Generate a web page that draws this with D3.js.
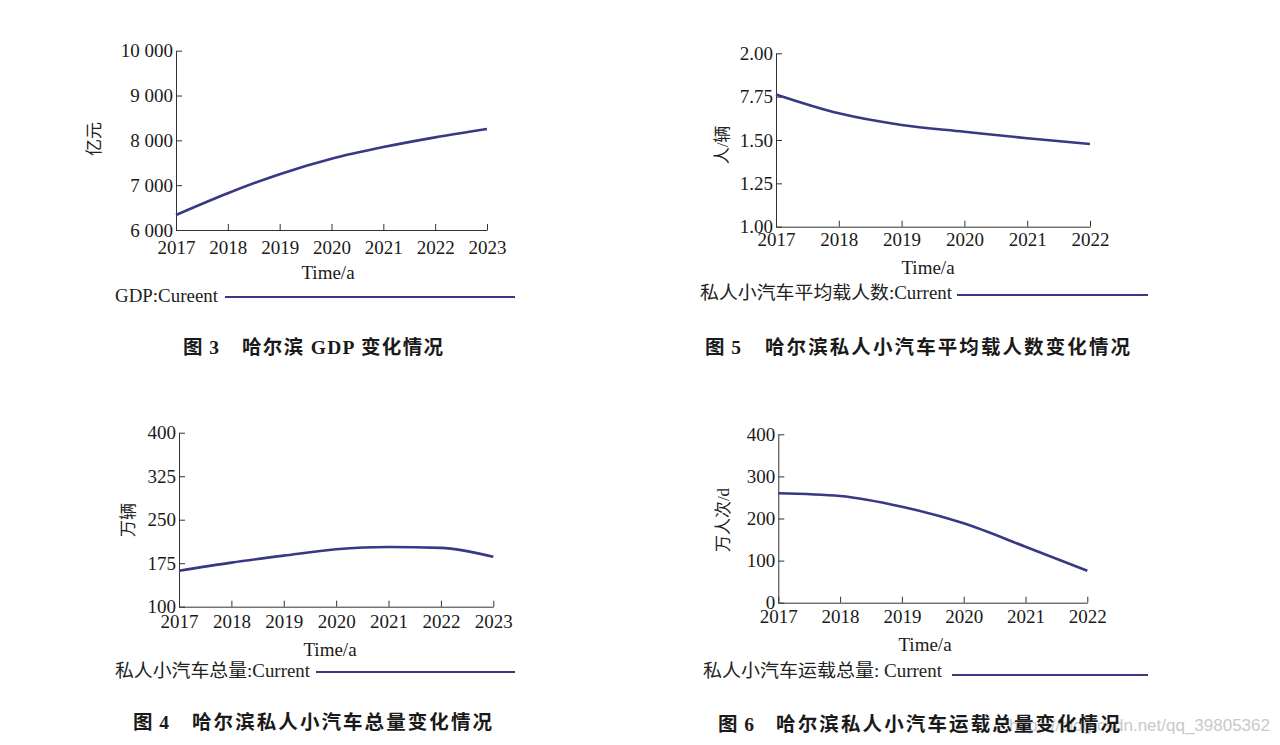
<!DOCTYPE html>
<html>
<head>
<meta charset="utf-8">
<script src="https://cdn.jsdelivr.net/npm/d3@7"></script>
<style>
  body { margin: 0; background: #fff; }
  svg { display: block; }
  .tick text { font-family: "Liberation Serif", "Times New Roman", serif; font-size: 19px; fill: #1a1a1a; }
  .axis path, .axis line { stroke: #333; stroke-width: 1; }
</style>
</head>
<body>
<svg id="fig" width="1280" height="745"></svg>
<script>
// 数据：年份与各序列数值
var years1 = [2017, 2018, 2019, 2020, 2021, 2022, 2023],
    years2 = [2017, 2018, 2019, 2020, 2021, 2022];

var gdp = [6336, 6821, 7246, 7590, 7850, 8067, 8254];
var avgLoad = [1.763, 1.654, 1.587, 1.548, 1.510, 1.477];
var carTotal = [162, 176, 188, 199, 203, 201.5, 186];
var carryTotal = [260, 253.5, 228, 188.5, 133, 76];

var gdpTicks = [6000, 7000, 8000, 9000, 10000],
    gdpTickLabels = ["6 000", "7 000", "8 000", "9 000", "10 000"];
var loadTicks = [1, 1.25, 1.5, 1.75, 2],
    loadTickLabels = ["1.00", "1.25", "1.50", "7.75", "2.00"];
var carTicks = [100, 175, 250, 325, 400],
    carTickLabels = ["100", "175", "250", "325", "400"];
var carryTicks = [0, 100, 200, 300, 400],
    carryTickLabels = ["0", "100", "200", "300", "400"];

var svg = d3.select("#fig"),
    lineColor = "#383885";

// 每个子图的位置参数
var panels = [
  { years: years1, values: gdp, ticks: gdpTicks, labels: gdpTickLabels,
    x0: 176, x1: 487, yTop: 50.7, yBot: 230, pad: 11,
    ylab: "亿元", ylx: 94, yly: 139,
    time: [328, 279],
    legend: "GDP:Cureent", lx: 115, ly: 302, lw: 103, line: [225, 515, 297] },
  { years: years2, values: avgLoad, ticks: loadTicks, labels: loadTickLabels,
    x0: 776, x1: 1090, yTop: 53.3, yBot: 226.7, pad: 6.3,
    ylab: "人/辆", ylx: 722, yly: 145,
    time: [928, 274],
    legend: "私人小汽车平均载人数:Current", lx: 700, ly: 298.5, lw: 252, line: [957, 1148, 295] },
  { years: years1, values: carTotal, ticks: carTicks, labels: carTickLabels,
    x0: 179, x1: 493.3, yTop: 432.7, yBot: 606.7, pad: 8.3,
    ylab: "万辆", ylx: 128, yly: 520,
    time: [330, 656],
    legend: "私人小汽车总量:Current", lx: 115, ly: 677, lw: 195, line: [316, 515, 672] },
  { years: years2, values: carryTotal, ticks: carryTicks, labels: carryTickLabels,
    x0: 778.3, x1: 1087.3, yTop: 434.3, yBot: 602.7, pad: 7.3,
    ylab: "万人次/d", ylx: 723, yly: 520,
    time: [925, 651],
    legend: "私人小汽车运载总量: Current", lx: 703, ly: 677, lw: 239, line: [952, 1148, 675] }
];

var serif = "'Liberation Serif', 'Noto Sans CJK SC', serif";

function drawPanel(p) {
  var x = d3.scaleLinear()
      .domain(d3.extent(p.years))
      .range([p.x0, p.x1]);
  var y = d3.scaleLinear()
      .domain(d3.extent(p.ticks))
      .range([p.yBot, p.yTop]);

  var g = svg.append("g");

  g.append("g")
      .attr("class", "axis")
      .attr("transform", "translate(0," + p.yBot + ")")
      .call(d3.axisBottom(x)
        .tickValues(p.years)
        .tickFormat(d3.format("d"))
        .tickSizeInner(-6)
        .tickSizeOuter(0)
        .tickPadding(p.pad));

  g.append("g")
      .attr("class", "axis")
      .attr("transform", "translate(" + p.x0 + ",0)")
      .call(d3.axisLeft(y)
        .tickValues(p.ticks)
        .tickFormat(function (d, i) { return p.labels[i]; })
        .tickSizeInner(-6)
        .tickSizeOuter(0)
        .tickPadding(3));

  g.selectAll(".domain").attr("fill", "none");

  var line = d3.line()
      .x(function (d, i) { return x(p.years[i]); })
      .y(function (d) { return y(d); })
      .curve(d3.curveMonotoneX);

  g.append("path")
      .datum(p.values)
      .attr("fill", "none")
      .attr("stroke", lineColor)
      .attr("stroke-width", 2.6)
      .attr("d", line);

  // 纵轴标题
  g.append("text")
      .attr("transform", "translate(" + p.ylx + "," + p.yly + ") rotate(-90)")
      .attr("text-anchor", "middle")
      .attr("dominant-baseline", "central")
      .style("font-family", serif)
      .style("font-size", "17px")
      .attr("fill", "#222")
      .text(p.ylab);

  g.append("text")
      .attr("x", p.time[0])
      .attr("y", p.time[1])
      .attr("text-anchor", "middle")
      .style("font-family", serif)
      .style("font-size", "19px")
      .attr("fill", "#1a1a1a")
      .text("Time/a");

  // 图例
  g.append("text")
      .attr("x", p.lx)
      .attr("y", p.ly)
      .attr("textLength", p.lw)
      .attr("lengthAdjust", "spacingAndGlyphs")
      .style("font-family", serif)
      .style("font-size", "18px")
      .attr("fill", "#222")
      .text(p.legend);

  g.append("line")
      .attr("x1", p.line[0])
      .attr("x2", p.line[1])
      .attr("y1", p.line[2])
      .attr("y2", p.line[2])
      .attr("stroke", lineColor)
      .attr("stroke-width", 2);
}

panels.forEach(drawPanel);

// 水印
svg.append("text")
    .attr("x", 1270)
    .attr("y", 731)
    .attr("text-anchor", "end")
    .style("font-family", "'Liberation Sans', Arial, sans-serif")
    .style("font-size", "17px")
    .attr("fill", "#c9c9c9")
    .text("https://blog.csdn.net/qq_39805362");

// 图题
var captions = [
  { num: "图 3", nx: 183, nw: 36, rest: "哈尔滨 GDP 变化情况", rx: 242, rw: 201, y: 354 },
  { num: "图 5", nx: 705, nw: 36, rest: "哈尔滨私人小汽车平均载人数变化情况", rx: 765, rw: 365, y: 354 },
  { num: "图 4", nx: 133, nw: 36, rest: "哈尔滨私人小汽车总量变化情况", rx: 192, rw: 300, y: 729 },
  { num: "图 6", nx: 718, nw: 36, rest: "哈尔滨私人小汽车运载总量变化情况", rx: 776, rw: 344, y: 731 }
];

captions.forEach(function (c) {
  [[c.num, c.nx, c.nw], [c.rest, c.rx, c.rw]].forEach(function (s) {
    svg.append("text")
        .attr("x", s[1])
        .attr("y", c.y)
        .attr("textLength", s[2])
        .attr("lengthAdjust", "spacing")
        .style("font-family", "'Liberation Serif', 'Noto Sans CJK SC', serif")
        .style("font-size", "19.5px")
        .style("font-weight", "bold")
        .attr("fill", "#1a1a1a")
        .text(s[0]);
  });
});
</script>
</body>
</html>
